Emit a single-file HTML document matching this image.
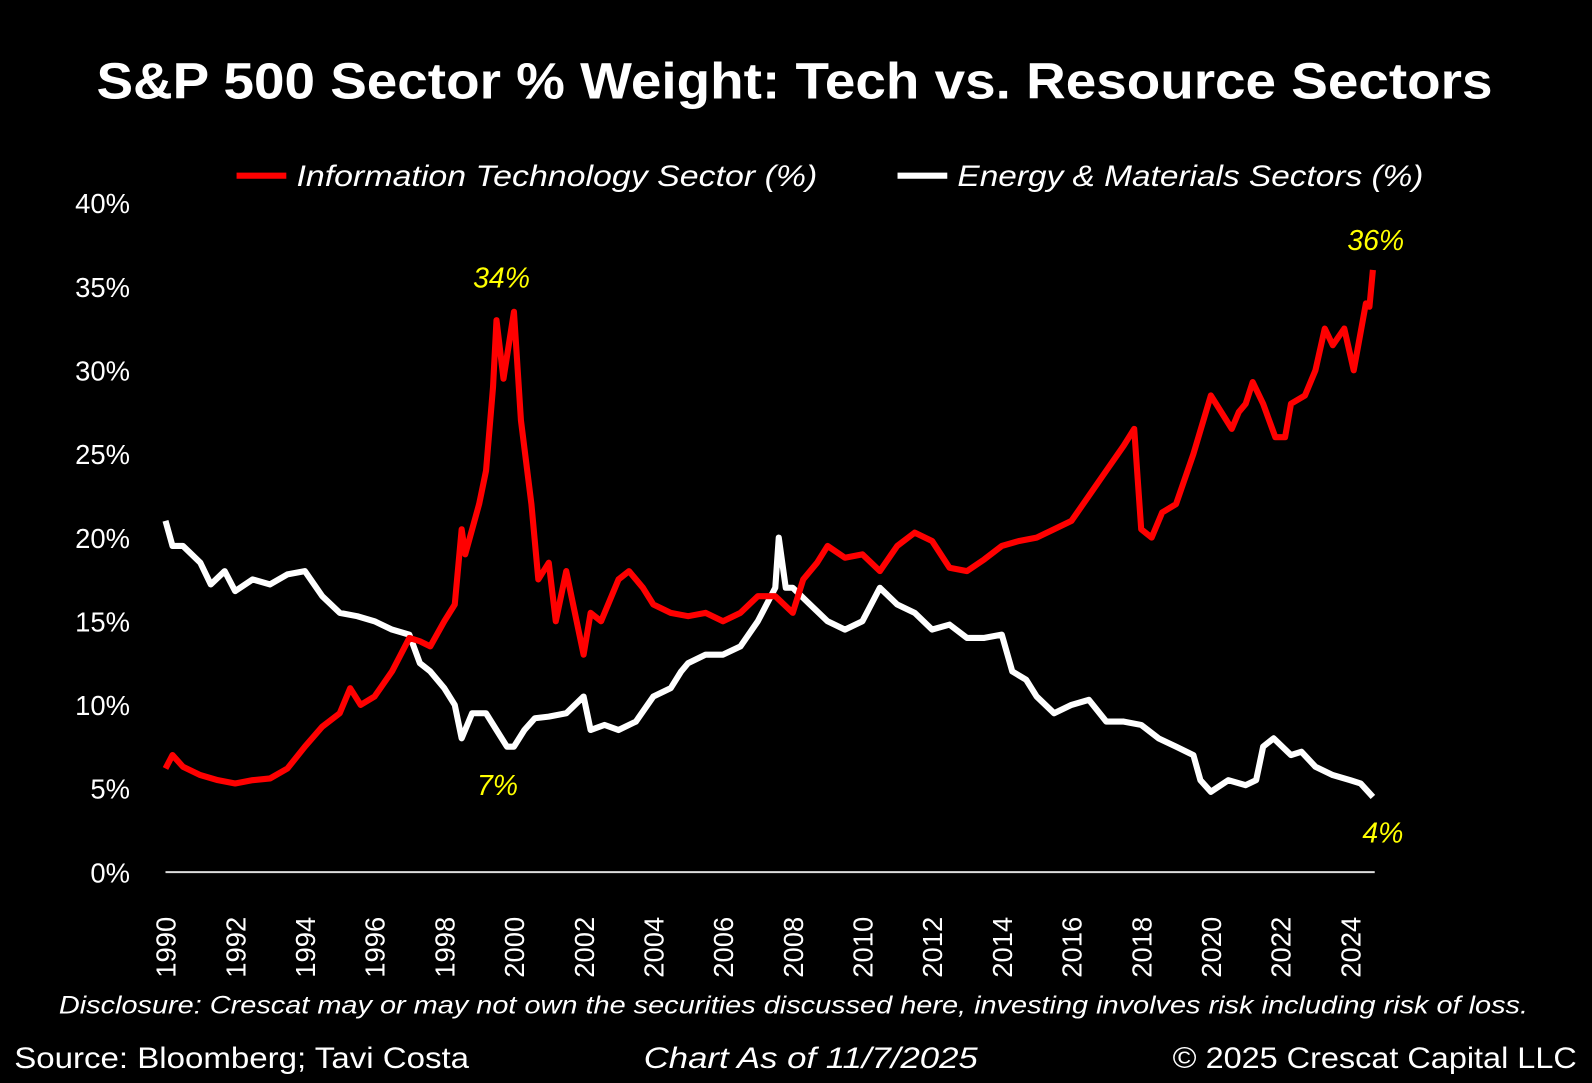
<!DOCTYPE html>
<html><head><meta charset="utf-8"><style>
html,body{margin:0;padding:0;background:#000;overflow:hidden;width:1592px;height:1083px}
#w{position:absolute;left:0;top:0;width:1568px;height:1067px;transform:scale(1.01531);transform-origin:0 0}
svg{display:block}
text{font-family:"Liberation Sans","DejaVu Sans",sans-serif}
</style></head><body><div id="w">
<svg id="s" width="1568" height="1067" viewBox="0 0 1568 1067">
<text x="95" y="97" fill="#fff" font-size="50" font-weight="bold" textLength="1375" lengthAdjust="spacingAndGlyphs">S&amp;P 500 Sector % Weight: Tech vs. Resource Sectors</text>
<line x1="233" y1="173" x2="282" y2="173" stroke="#f00" stroke-width="6"/>
<text x="292" y="183" fill="#fff" font-size="29" font-style="italic" textLength="513" lengthAdjust="spacingAndGlyphs">Information Technology Sector (%)</text>
<line x1="884" y1="173" x2="933" y2="173" stroke="#fff" stroke-width="6"/>
<text x="943" y="183" fill="#fff" font-size="29" font-style="italic" textLength="459" lengthAdjust="spacingAndGlyphs">Energy &amp; Materials Sectors (%)</text>
<g id="yl" fill="#fff" font-size="27" text-anchor="end"></g>
<line x1="163" y1="859" x2="1354" y2="859" stroke="#ddd" stroke-width="2"/>
<g id="xl" fill="#fff" font-size="27"></g>
<polyline id="wh" fill="none" stroke="#fff" stroke-width="6" stroke-linejoin="round"/>
<polyline id="rd" fill="none" stroke="#f00" stroke-width="6" stroke-linejoin="round"/>
<g fill="#ff0" font-size="28" font-style="italic" text-anchor="middle">
<text x="494" y="283">34%</text><text x="490" y="783">7%</text>
<text x="1355" y="246">36%</text><text x="1362" y="830">4%</text></g>
<text x="58" y="998" fill="#fff" font-size="25" font-style="italic" textLength="1447" lengthAdjust="spacingAndGlyphs">Disclosure: Crescat may or may not own the securities discussed here, investing involves risk including risk of loss.</text>
<text x="14" y="1052" fill="#fff" font-size="29" textLength="448" lengthAdjust="spacingAndGlyphs">Source: Bloomberg; Tavi Costa</text>
<text x="634" y="1052" fill="#fff" font-size="29" font-style="italic" textLength="329" lengthAdjust="spacingAndGlyphs">Chart As of 11/7/2025</text>
<text x="1155" y="1052" fill="#fff" font-size="29" textLength="398" lengthAdjust="spacingAndGlyphs">© 2025 Crescat Capital LLC</text>
</svg></div>
<script>
var NS="http://www.w3.org/2000/svg";
function X(y){return 163+(y-1990)*34.32}function Y(v){return 859-v*16.475}
var yl=document.getElementById('yl');
for(var i=0;i<=8;i++){var t=document.createElementNS(NS,'text');t.setAttribute('x',128);t.setAttribute('y',Y(i*5)+10);t.textContent=(i*5)+'%';yl.appendChild(t);}
var xl=document.getElementById('xl');
for(var y=1990;y<=2024;y+=2){var t=document.createElementNS(NS,'text');var x=X(y)+10;t.setAttribute('transform','translate('+x+',933) rotate(-90)');t.setAttribute('text-anchor','middle');t.textContent=y;xl.appendChild(t);}
var R=[1990,6.2,1990.2,7,1990.5,6.3,1991,5.8,1991.5,5.5,1992,5.3,1992.5,5.5,1993,5.6,1993.5,6.2,1994,7.5,1994.5,8.7,1995,9.5,1995.3,11,1995.6,10,1996,10.5,1996.5,12,1997,14,1997.3,13.8,1997.6,13.5,1998,15,1998.3,16,1998.5,20.5,1998.6,19,1999,22,1999.2,24,1999.4,29,1999.5,33,1999.7,29.5,2000,33.5,2000.2,27,2000.5,22,2000.7,17.5,2001,18.5,2001.2,15,2001.5,18,2001.7,16,2002,13,2002.2,15.5,2002.5,15,2003,17.5,2003.3,18,2003.7,17,2004,16,2004.5,15.5,2005,15.3,2005.5,15.5,2006,15,2006.5,15.5,2007,16.5,2007.5,16.5,2008,15.5,2008.3,17.5,2008.7,18.5,2009,19.5,2009.5,18.8,2010,19,2010.5,18,2011,19.5,2011.5,20.3,2012,19.8,2012.5,18.2,2013,18,2013.5,18.7,2014,19.5,2014.5,19.8,2015,20,2015.5,20.5,2016,21,2016.5,22.5,2017,24,2017.5,25.5,2017.8,26.5,2018,20.5,2018.3,20,2018.6,21.5,2019,22,2019.5,25,2020,28.5,2020.3,27.5,2020.6,26.5,2020.8,27.5,2021,28,2021.2,29.3,2021.5,28,2021.85,26,2022.13,26,2022.3,28,2022.7,28.5,2023,30,2023.27,32.5,2023.5,31.5,2023.83,32.5,2024.1,30,2024.45,34,2024.55,33.8,2024.65,36];
var W=[1990,21,1990.2,19.5,1990.5,19.5,1991,18.5,1991.3,17.2,1991.7,18,1992,16.8,1992.5,17.5,1993,17.2,1993.5,17.8,1994,18,1994.5,16.5,1995,15.5,1995.5,15.3,1996,15,1996.5,14.5,1997,14.2,1997.3,12.5,1997.6,12,1998,11,1998.3,10,1998.5,8,1998.8,9.5,1999.2,9.5,1999.5,8.5,1999.8,7.5,2000,7.5,2000.3,8.5,2000.6,9.2,2001,9.3,2001.5,9.5,2002,10.5,2002.2,8.5,2002.6,8.8,2003,8.5,2003.5,9,2004,10.5,2004.5,11,2004.8,12,2005,12.5,2005.5,13,2006,13,2006.5,13.5,2007,15,2007.5,17,2007.6,20,2007.8,17,2008,17,2008.5,16,2009,15,2009.5,14.5,2010,15,2010.5,17,2011,16,2011.5,15.5,2012,14.5,2012.5,14.8,2013,14,2013.5,14,2014,14.2,2014.3,12,2014.7,11.5,2015,10.5,2015.5,9.5,2016,10,2016.5,10.3,2017,9,2017.5,9,2018,8.8,2018.5,8,2019,7.5,2019.5,7,2019.7,5.5,2020,4.8,2020.5,5.5,2021,5.2,2021.3,5.5,2021.5,7.5,2021.8,8,2022.3,7,2022.6,7.2,2023,6.3,2023.5,5.8,2024,5.5,2024.3,5.3,2024.65,4.5];
function pts(a){var s=[];for(var i=0;i<a.length;i+=2)s.push(X(a[i]).toFixed(1)+','+Y(a[i+1]).toFixed(1));return s.join(' ')}
document.getElementById('rd').setAttribute('points',pts(R));
document.getElementById('wh').setAttribute('points',pts(W));
</script></body></html>
